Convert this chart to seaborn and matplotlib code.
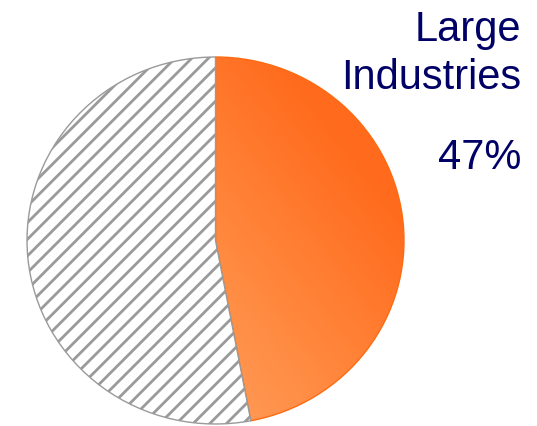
import numpy as np
import matplotlib
matplotlib.use("Agg")
import matplotlib.pyplot as plt
import seaborn as sns
from matplotlib.colors import LinearSegmentedColormap

sns.set_style("white")
plt.rcParams['font.family'] = ['Liberation Sans', 'DejaVu Sans']
plt.rcParams['hatch.linewidth'] = 2.0
plt.rcParams['hatch.color'] = '#808080'

labels = ["Large Industries", "Other"]
shares = [47, 53]

W, H = 537, 427
fig = plt.figure(figsize=(W / 100, H / 100), dpi=100)
# pie area in pixel coordinates: x 27..404, y (from top) 58..425
ax = fig.add_axes([27 / W, (H - 425) / H, 377 / W, 367 / H])

wedges, _ = ax.pie(shares, startangle=90, counterclock=False, radius=1,
                   colors=['#FF8030', 'white'],
                   wedgeprops=dict(linewidth=1.0))
ax.set_xlim(-1, 1)
ax.set_ylim(-1, 1)
ax.set_aspect('auto')
ax.axis('off')

orange, other = wedges
orange.set_edgecolor('#FF6A10')
other.set_hatch('//')
other.set_edgecolor('#9a9a9a')
other.set_facecolor('white')

# gradient fill for the orange wedge
cmap = LinearSegmentedColormap.from_list('og', ['#FFA566', '#FF8A40', '#FF6A1C'])
n = 300
xx, yy = np.meshgrid(np.linspace(-1, 1, n), np.linspace(-1, 1, n))
grad = (xx * 0.8 + yy * 0.6)
img = ax.imshow(grad, extent=(-1, 1, -1, 1), origin='lower', cmap=cmap,
                vmin=-0.9, vmax=0.9, aspect='auto', zorder=0.5)
img.set_clip_path(orange)
orange.set_facecolor('none')
orange.set_zorder(1)

fig.text(521 / W, 1 - 30 / H, "Large", ha='right', va='center',
         fontsize=30, color='#000066')
fig.text(521 / W, 1 - 78 / H, "Industries", ha='right', va='center',
         fontsize=30, color='#000066')
fig.text(521 / W, 1 - 158 / H, f"{shares[0]}%", ha='right', va='center',
         fontsize=30, color='#000066')

fig.savefig("out.png", dpi=100)
